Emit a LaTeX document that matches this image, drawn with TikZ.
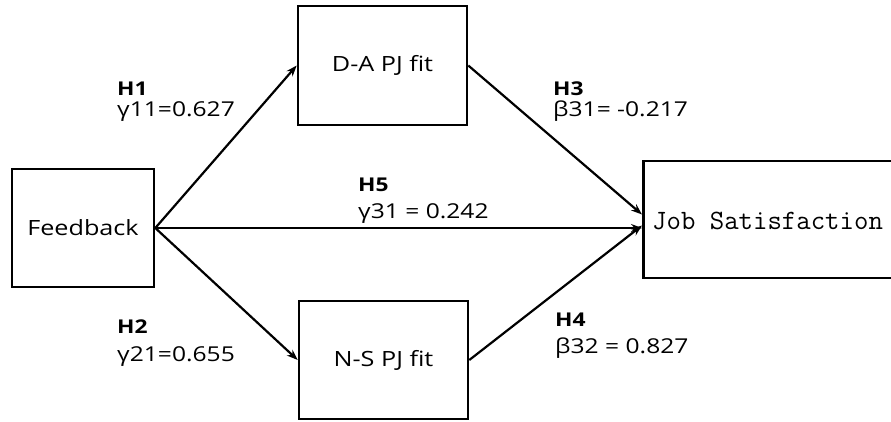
\documentclass[tikz,border=0pt]{standalone}
\usepackage{fontspec}
\usepackage{graphicx}
\setmainfont{Open Sans}
\usetikzlibrary{arrows.meta}
\newcommand{\sxw}[1]{\scalebox{1.2}[1]{#1}}
\begin{document}
\begin{tikzpicture}[x=1pt,y=-1pt,
  box/.style={draw=black,line width=2.6pt,inner sep=0pt,fill=white},
  conn/.style={line width=2.2pt,-{Stealth[length=11pt,width=8pt]}},
  lab/.style={anchor=base west,inner sep=0pt,font=\fontsize{20.5}{24}\selectfont},
  blab/.style={anchor=base west,inner sep=0pt,font=\fontsize{19}{22}\selectfont\bfseries}]
\useasboundingbox[fill=white] (0,0) rectangle (891,421);
\node[box,minimum width=142pt,minimum height=118pt,font=\fontsize{21}{24}\selectfont] (fb) at (83,228) {\sxw{Feedback}};
\node[box,minimum width=169pt,minimum height=119pt,font=\fontsize{21}{24}\selectfont] (da) at (382.5,65.5) {\sxw{D-A PJ fit}};
\node[box,minimum width=169pt,minimum height=118pt,font=\fontsize{21}{24}\selectfont] (ns) at (383.5,360) {\sxw{N-S PJ fit}};
\node[box,minimum width=300pt,minimum height=117pt,anchor=west] (job) at (642,219.5) {};
\node[anchor=west,inner sep=0pt,font=\ttfamily\fontsize{28}{30}\selectfont] (jobtxt) at (652,221) {Job Satisfaction};
\draw[conn] (fb.east) -- (da.west);
\draw[conn] (fb.east) -- (ns.west);
\draw[conn] (fb.east) -- (fb.east -| job.west);
\draw[conn] (da.east) -- ([yshift=5pt]job.west);
\draw[conn] (ns.east) -- ([yshift=-6pt]job.west);
\node[blab] (h1) at (117,95) {\sxw{H1}};
\node[lab] (g11) at (117,116) {\sxw{γ11=0.627}};
\node[blab] (h3) at (553,95) {\sxw{H3}};
\node[lab] (b31) at (553,116) {\sxw{β31= -0.217}};
\node[blab] (h5) at (358,191) {\sxw{H5}};
\node[lab] (g31) at (358,218) {\sxw{γ31 = 0.242}};
\node[blab] (h2) at (117,333) {\sxw{H2}};
\node[lab] (g21) at (117,361) {\sxw{γ21=0.655}};
\node[blab] (h4) at (555,326) {\sxw{H4}};
\node[lab] (b32) at (555,353) {\sxw{β32 = 0.827}};
\end{tikzpicture}
\end{document}
